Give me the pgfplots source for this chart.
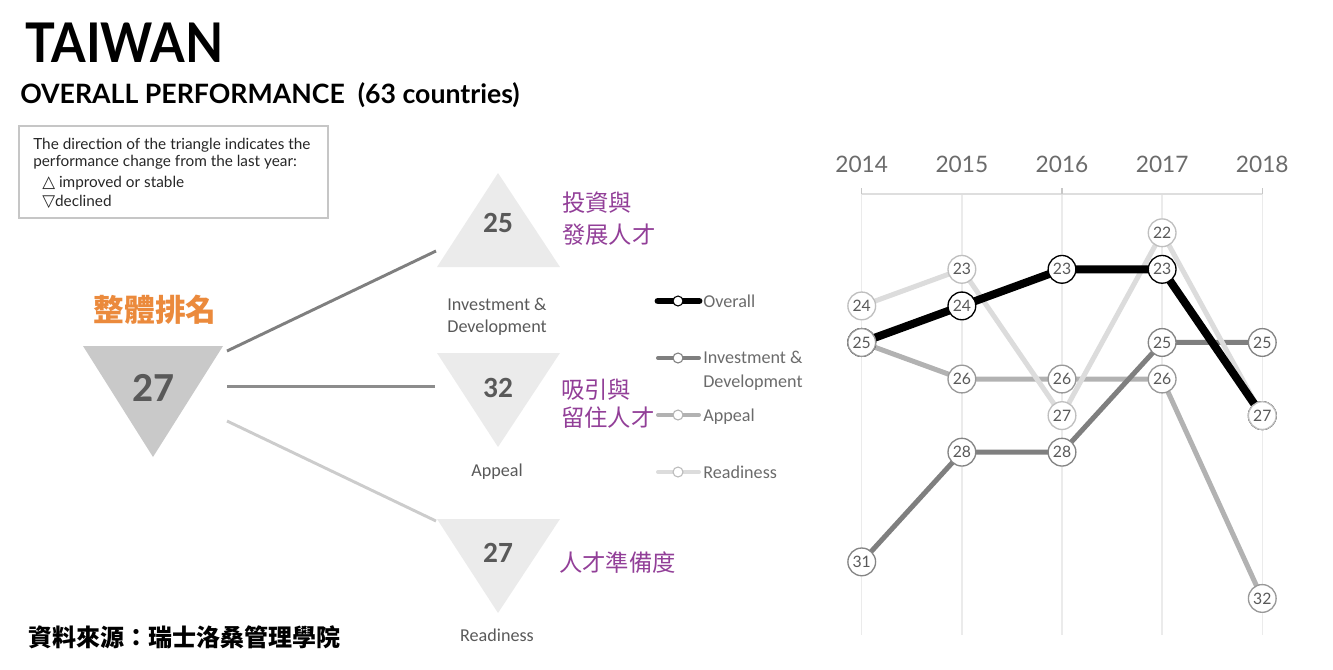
\documentclass[border=0pt]{standalone}
\usepackage{fontspec}
\setmainfont{Carlito}
\newfontfamily\gill{Lato}
\newfontfamily\cjk{Noto Sans CJK TC}
\newfontfamily\sym{DejaVu Sans}
\usepackage{pgfplots}
\usepackage{pgfplotstable}
\pgfplotsset{compat=1.18}

\definecolor{invc}{HTML}{7F7F7F}
\definecolor{appc}{HTML}{B2B2B2}
\definecolor{redc}{HTML}{DCDCDC}
\definecolor{txtc}{HTML}{595959}
\definecolor{yearc}{HTML}{6B6B6B}
\definecolor{orangec}{HTML}{EB8A3C}
\definecolor{purplec}{HTML}{923F98}
\newcommand\fs[1]{\fontsize{#1pt}{#1pt}\selectfont}

% IMD ranks, 63 countries
\pgfplotstableread{
year overall invest appeal ready
2014 25 31 25 24
2015 24 28 26 23
2016 23 28 26 27
2017 23 25 26 22
2018 27 25 32 27
}\ranks

\pgfplotsset{rankmark/.style={only marks, mark=*, mark size=10.4pt,
    mark options={fill=white, draw=#1, line width=1pt},
    nodes near coords, point meta=y}}

\begin{document}
\begin{tikzpicture}
\begin{scope}[x=0.75pt,y=-0.75pt]
  \path[use as bounding box] (0,0) rectangle (1333,669);

  % titles
  \node[anchor=base west, inner sep=0, font=\gill\bfseries\fs{41}, xscale=0.91] at (25,62) {TAIWAN};
  \node[anchor=base west, inner sep=0, font=\gill\bfseries\fs{20}] at (20,103) {OVERALL PERFORMANCE\ \ (63 countries)};

  % note box
  \draw[gray!45, line width=0.8pt] (19,126) rectangle (328,218);
  \begin{scope}[every node/.style={anchor=base west, inner sep=0, font=\gill\fs{11.5}, text=black!85}]
    \node at (33,149) {The direction of the triangle indicates the};
    \node at (33,166) {performance change from the last year:};
    \node at (42,187) {{\sym\fs{12.5}△} improved or stable};
    \node at (42,206) {{\sym\fs{12.5}▽}declined};
  \end{scope}

  % overall rank
  \node[font=\cjk\bfseries\fs{23}, text=orangec] at (155,310) {整體排名};
  \fill[black!21] (83,346) -- (223,346) -- (153,457) -- cycle;
  \node[font=\bfseries\fs{31}, text=txtc] at (153,388) {27};

  % connectors
  \draw[invc, line width=2.2pt] (227,351) -- (436,251);
  \draw[black!45, line width=2.2pt] (227,386.5) -- (435,386.5);
  \draw[black!20, line width=2.2pt] (227,421) -- (436,521);

  % pillar triangles
  \fill[black!8] (498,173) -- (560,267) -- (437,267) -- cycle;
  \fill[black!8] (437,353) -- (560,353) -- (498,447) -- cycle;
  \fill[black!8] (437,519) -- (560,519) -- (498,613) -- cycle;
  \begin{scope}[every node/.style={font=\bfseries\fs{22}, text=txtc}]
    \node at (498,223) {25};
    \node at (498,388) {32};
    \node at (498,553) {27};
  \end{scope}
  \begin{scope}[every node/.style={anchor=base, inner sep=0, font=\fs{13.6}, text=txtc}]
    \node at (497,310) {Investment \&};
    \node at (497,332) {Development};
    \node at (497,476) {Appeal};
    \node at (497,641) {Readiness};
  \end{scope}
  \begin{scope}[every node/.style={anchor=west, inner sep=0, font=\cjk\fs{17.5}, text=purplec}]
    \node at (562,203) {投資與};
    \node at (562,235) {發展人才};
    \node at (561,390) {吸引與};
    \node at (561,418) {留住人才};
    \node at (559,563) {人才準備度};
  \end{scope}

  % legend
  \draw[black, line width=5.2pt, line cap=round] (658,301) -- (699,301);
  \draw[invc, line width=3pt, line cap=round] (658,358) -- (699,358);
  \draw[appc, line width=3pt, line cap=round] (658,415) -- (699,415);
  \draw[redc, line width=3pt, line cap=round] (658,472) -- (699,472);
  \filldraw[fill=white, draw=black, line width=0.8pt] (678,301) circle (5);
  \filldraw[fill=white, draw=invc, line width=0.8pt] (678,358) circle (5);
  \filldraw[fill=white, draw=appc, line width=0.8pt] (678,415) circle (5);
  \filldraw[fill=white, draw=redc!85!black, line width=0.8pt] (678,472) circle (5);
  \begin{scope}[every node/.style={anchor=base west, inner sep=0, font=\fs{13.6}, text=black!58}]
    \node at (703,307) {Overall};
    \node at (703,363) {Investment \&};
    \node at (703,387) {Development};
    \node at (703,421) {Appeal};
    \node at (703,478) {Readiness};
  \end{scope}

  % source
  \node[anchor=west, inner sep=0, font=\cjk\bfseries\fs{18}] at (28,637) {資料來源：瑞士洛桑管理學院};
\end{scope}

\begin{axis}[
  at={(646.3pt,-145.5pt)}, anchor=north west,
  scale only axis, width=300.4pt, height=330.75pt,
  xmin=2014, xmax=2018, ymin=20.94, ymax=33.0, y dir=reverse,
  clip=false,
  axis x line*=top, axis y line=none,
  x axis line style={draw=black!13, line width=1.1pt, -},
  xtick={2014,2015,2016,2017,2018},
  xticklabels={2014,2015,2016,2017,2018},
  major tick length=0pt,
  xticklabel style={font=\gill\fs{17}, text=yearc, anchor=base, yshift=16.5pt},
  extra x ticks={2014,2016,2018}, extra x tick labels={},
  extra x tick style={grid=none, major tick length=4.5pt, tick align=outside,
    tick style={draw=black!22, line width=1.1pt}},
  xmajorgrids, grid style={draw=black!8, line width=1.1pt},
  ytick=\empty,
  /pgf/number format/assume math mode=true,
  nodes near coords style={anchor=center, font=\gill\fs{11.8}, text=txtc},
]
\addplot[appc, line width=3.75pt, line join=round] table[x=year, y=appeal] {\ranks};
\addplot[invc, line width=3.75pt, line join=round] table[x=year, y=invest] {\ranks};
\addplot[redc, line width=3.75pt, line join=round] table[x=year, y=ready] {\ranks};
\addplot[black, line width=6pt, line join=round] table[x=year, y=overall] {\ranks};

\addplot[rankmark=black] table[x=year, y=overall] {\ranks};
\addplot[rankmark=black!48] table[x=year, y=invest] {\ranks};
\addplot[rankmark=black!25] table[x=year, y=ready] {\ranks};
\addplot[rankmark=black!40] table[x=year, y=appeal] {\ranks};
\end{axis}
\end{tikzpicture}
\end{document}
